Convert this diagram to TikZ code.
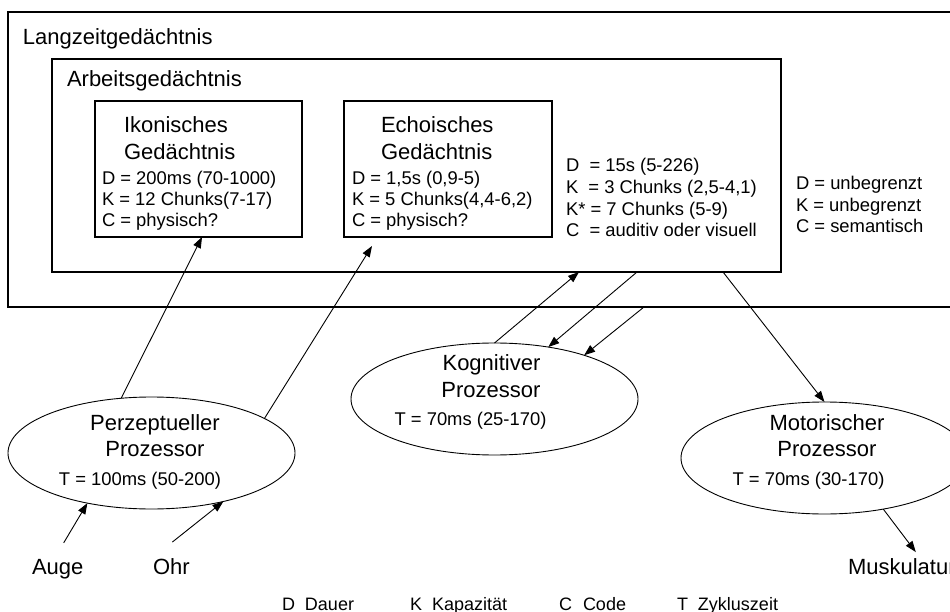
\documentclass[tikz,border=0pt]{standalone}
\usepackage{fontspec}
\setmainfont{Liberation Sans}
\usetikzlibrary{shapes.geometric,arrows.meta}
\begin{document}
\begin{tikzpicture}[x=1pt,y=-1pt,
  box/.style={draw=black,line width=1.1pt,inner sep=0pt,outer sep=0pt},
  proc/.style={draw=black,line width=0.9pt,ellipse,minimum width=287pt,minimum height=112pt,inner sep=0pt,outer sep=0pt},
  ttl/.style={inner sep=0pt,outer sep=0pt,font=\fontsize{22}{27}\selectfont},
  dat/.style={inner sep=0pt,outer sep=0pt,font=\fontsize{18.4}{21}\selectfont,align=left},
  leg/.style={inner sep=0pt,outer sep=0pt,font=\fontsize{18}{21}\selectfont,anchor=base west},
  arr/.style={line width=0.9pt,-{Triangle[length=11pt,width=8pt]}}]
\useasboundingbox (0,0) rectangle (950,612);
\fill[white] (0,0) rectangle (950,612);

% boxes
\node[box,minimum width=952pt,minimum height=295pt] (lang) at (484,159.5) {};
\node[box,minimum width=729pt,minimum height=213pt] (arb) at (416.5,165.5) {};
\node[box,minimum width=207pt,minimum height=136pt] (ikon) at (198.5,169) {};
\node[box,minimum width=208pt,minimum height=136pt] (echo) at (448,169) {};

% box texts (multi-line nodes: base = baseline of last line)
\node[ttl,anchor=base west] (langT) at (23,45) {Langzeitgedächtnis};
\node[ttl,anchor=base west] (arbT) at (67,87) {Arbeitsgedächtnis};
\node[ttl,anchor=base west] (ikonT1) at (124,133) {Ikonisches};
\node[ttl,anchor=base west] (ikonT2) at (124,160) {Gedächtnis};
\node[dat,anchor=base west] (ikonD) at (102,227) {D = 200ms (70-1000)\\K = 12 Chunks(7-17)\\C = physisch?};
\node[ttl,anchor=base west] (echoT1) at (381,133) {Echoisches};
\node[ttl,anchor=base west] (echoT2) at (381,160) {Gedächtnis};
\node[dat,anchor=base west] (echoD) at (352,227) {D = 1,5s (0,9-5)\\K = 5 Chunks(4,4-6,2)\\C = physisch?};
\node[dat,anchor=base west,font=\fontsize{18.4}{21.7}\selectfont] (arbD) at (566,237) {D\ \ = 15s (5-226)\\K\ \ = 3 Chunks (2,5-4,1)\\K* = 7 Chunks (5-9)\\C\ \ = auditiv oder visuell};
\node[dat,anchor=base west,font=\fontsize{18.4}{21.5}\selectfont] (langD) at (796,233) {D = unbegrenzt\\K = unbegrenzt\\C = semantisch};

% processors
\node[proc] (perz) at (151.5,453) {};
\node[proc] (kog) at (494.5,399) {};
\node[proc] (mot) at (824.5,458) {};
\node[ttl,anchor=base] (perzT1) at (155,430) {Perzeptueller};
\node[ttl,anchor=base] (perzT2) at (155,456) {Prozessor};
\node[dat,anchor=base] (perzD) at (140,485) {T = 100ms (50-200)};
\node[ttl,anchor=base] (kogT1) at (491.5,370) {Kognitiver};
\node[ttl,anchor=base] (kogT2) at (491,397) {Prozessor};
\node[dat,anchor=base] (kogD) at (470.5,425) {T = 70ms (25-170)};
\node[ttl,anchor=base] (motT1) at (827,430) {Motorischer};
\node[ttl,anchor=base] (motT2) at (827,456) {Prozessor};
\node[dat,anchor=base] (motD) at (808.5,485) {T = 70ms (30-170)};

% inputs / outputs
\node[ttl,anchor=base west] (auge) at (32,574) {Auge};
\node[ttl,anchor=base west] (ohr) at (153,574) {Ohr};
\node[ttl,anchor=base west] (musk) at (848,574) {Muskulatur};

% legend
\node[leg] (legD) at (282,610) {\makebox[23pt][l]{D}Dauer};
\node[leg] (legK) at (410,610) {\makebox[22pt][l]{K}Kapazität};
\node[leg] (legC) at (559,610) {\makebox[24pt][l]{C}Code};
\node[leg] (legT) at (677,610) {\makebox[21pt][l]{T}Zykluszeit};

% connectors
\draw[arr] (perz.119.4) -- ([xshift=3.5pt]ikon.south);
\draw[arr] (perz.17) -- ([shift={(-76pt,-9pt)}]echo.south);
\draw[arr] (kog.north) -- ([xshift=162.5pt]arb.south);
\draw[arr] ([xshift=220.5pt]arb.south) -- (kog.44.2);
\draw[arr] ([xshift=160pt]lang.south) -- (kog.26);
\draw[arr] ([xshift=306.5pt]arb.south) -- (mot.north);
\draw[arr] (mot.-41.6) -- ([shift={(14pt,6pt)}]musk.north);
\draw[arr] ([shift={(6pt,16pt)}]auge.north) -- (perz.-142.6);
\draw[arr] ([shift={(1pt,16pt)}]ohr.north) -- (perz.-34.7);
\end{tikzpicture}
\end{document}
